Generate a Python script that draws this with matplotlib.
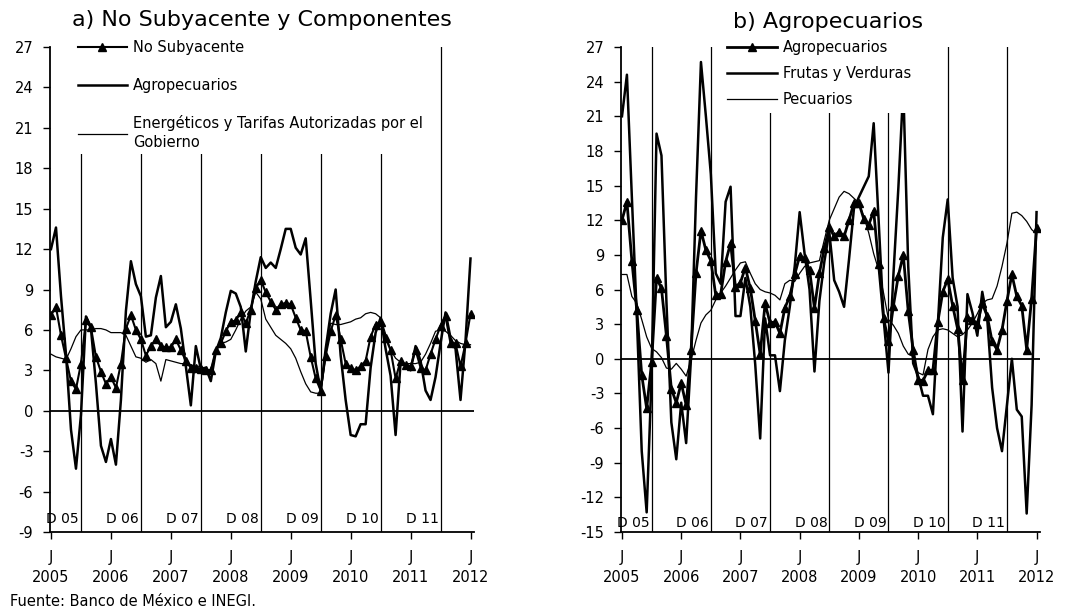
import matplotlib.pyplot as plt
import numpy as np

plt.rcParams['font.family'] = 'DejaVu Sans'
plt.rcParams['axes.unicode_minus'] = False

# monthly annual inflation, jun 2005 .. jun 2012
years = ['2005', '2006', '2007', '2008', '2009', '2010', '2011', '2012']
dic_labels = ['D 05', 'D 06', 'D 07', 'D 08', 'D 09', 'D 10', 'D 11']

no_subyacente = [7.1, 7.7, 5.6, 3.9, 2.2, 1.6, 3.5, 6.7, 6.2, 4.0,
                 2.9, 2.0, 2.5, 1.7, 3.5, 6.1, 7.1, 6.0, 5.3, 4.1,
                 4.8, 5.3, 4.8, 4.7, 4.7, 5.3, 4.5, 3.7, 3.2, 3.2,
                 3.1, 3.0, 3.0, 4.5, 5.0, 5.9, 6.6, 6.7, 7.3, 6.5,
                 7.5, 9.1, 9.7, 8.8, 8.1, 7.5, 7.9, 8.0, 7.9, 6.9,
                 6.0, 5.9, 4.0, 2.4, 1.5, 4.1, 5.9, 7.1, 5.3, 3.5,
                 3.2, 3.0, 3.3, 3.7, 5.5, 6.4, 6.6, 5.4, 4.5, 2.4,
                 3.7, 3.4, 3.3, 4.5, 3.2, 3.0, 4.2, 5.3, 6.3, 7.0,
                 5.0, 5.0, 3.3, 5.0, 7.2]
agropecuarios = [12.0, 13.6, 8.5, 4.2, -1.4, -4.3, -0.3, 7.0, 6.1, 2.0,
                 -2.6, -3.8, -2.1, -4.0, 0.8, 7.4, 11.1, 9.4, 8.5, 5.5,
                 5.6, 8.4, 10.0, 6.2, 6.6, 7.9, 6.1, 3.3, 0.4, 4.8,
                 3.1, 3.2, 2.2, 4.4, 5.4, 7.3, 8.9, 8.7, 7.7, 4.4,
                 7.4, 9.6, 11.4, 10.6, 11.0, 10.6, 12.0, 13.5, 13.5, 12.1,
                 11.6, 12.8, 8.2, 3.5, 1.5, 4.6, 7.2, 9.0, 4.1, 0.8,
                 -1.8, -1.9, -1.0, -1.0, 3.2, 5.8, 6.9, 4.6, 2.6, -1.8,
                 3.6, 3.4, 3.0, 4.8, 3.7, 1.5, 0.8, 2.5, 5.0, 7.3,
                 5.4, 4.6, 0.8, 5.2, 11.3]
energeticos = [4.2, 4.0, 3.9, 3.8, 4.6, 5.5, 6.0, 6.0, 6.0, 6.1,
               6.1, 6.0, 5.8, 5.8, 5.8, 5.6, 4.8, 4.0, 3.9, 3.6,
               3.8, 3.5, 2.2, 3.8, 3.7, 3.6, 3.5, 3.5, 3.4, 3.3,
               3.3, 3.1, 3.0, 4.5, 5.0, 5.1, 5.3, 6.0, 6.8, 7.4,
               7.7, 8.8, 8.3, 6.8, 6.2, 5.6, 5.3, 5.0, 4.6, 3.9,
               2.9, 2.0, 1.4, 1.3, 1.3, 4.0, 6.5, 6.4, 6.4, 6.5,
               6.6, 6.8, 6.9, 7.2, 7.3, 7.2, 6.9, 5.7, 4.5, 3.9,
               3.6, 3.5, 3.5, 3.5, 3.6, 4.2, 5.0, 5.9, 6.0, 5.9,
               5.6, 5.2, 5.0, 4.9, 4.9]
frutas_verduras = [21.0, 24.6, 14.0, 3.7, -8.0, -13.3, -1.5, 19.5, 17.6, 5.0,
                   -5.5, -8.7, -3.8, -7.3, 0.2, 14.0, 25.7, 21.0, 16.0, 7.4,
                   6.5, 13.6, 14.9, 3.7, 3.7, 7.0, 4.5, -0.5, -6.9, 3.5,
                   0.3, 0.3, -2.8, 1.6, 4.5, 8.0, 12.7, 9.1, 6.0, -1.1,
                   5.0, 8.4, 11.0, 6.8, 5.8, 4.5, 8.6, 13.0, 14.0, 14.9,
                   15.8, 20.4, 12.0, 3.5, -1.2, 7.3, 14.8, 23.5, 8.0, -0.4,
                   -1.5, -3.2, -3.2, -4.8, 3.0, 10.5, 13.8, 7.0, 4.5, -6.3,
                   5.6, 4.0, 2.0, 5.8, 3.5, -2.5, -6.0, -8.0, -4.0, 0.0,
                   -4.4, -5.0, -13.4, -4.0, 12.7]
pecuarios = [7.3, 7.3, 5.4, 4.8, 3.4, 1.9, 0.9, 0.6, 0.1, -0.8,
             -0.9, -0.4, -0.9, -1.5, -0.1, 1.6, 3.1, 3.8, 4.2, 5.1,
             5.7, 6.3, 7.0, 7.7, 8.3, 8.4, 7.4, 6.5, 6.0, 5.8,
             5.7, 5.5, 5.1, 6.5, 6.8, 6.7, 7.4, 8.0, 8.3, 8.4,
             8.5, 10.3, 12.0, 13.0, 14.0, 14.5, 14.3, 13.9, 13.5, 12.3,
             10.9, 9.1, 7.7, 5.7, 3.4, 2.9, 2.2, 1.1, 0.4, 0.2,
             -1.2, -1.4, 0.8, 1.9, 2.5, 2.6, 2.5, 2.2, 1.9, 2.1,
             2.5, 3.1, 3.9, 4.8, 5.1, 5.2, 6.3, 8.0, 10.0, 12.6,
             12.7, 12.4, 11.9, 11.2, 10.8]

meses = np.arange(len(agropecuarios))
jun_ticks = np.arange(0, len(meses), 12)
dic_pos = jun_ticks[:-1] + 6

fig = plt.figure(figsize=(10.79, 6.11), dpi=100)
W, H = 1079.0, 611.0

def panel(left, right, ymin, ymax, dy_label, fs=10.5):
    ax = fig.add_axes([left / W, (H - 532) / H, (right - left) / W, (532 - 47) / H])
    ax.set_xlim(-0.2, 84.7)
    ax.set_ylim(ymin, ymax)
    ax.set_yticks(np.arange(ymin, ymax + 1, 3))
    ax.set_xticks(jun_ticks)
    ax.set_xticklabels(['J\n' + y for y in years], linespacing=1.45)
    ax.tick_params(direction='out', length=5, width=1, labelsize=fs, pad=7)
    ax.tick_params(axis='x', pad=8)
    for s in ['top', 'right']:
        ax.spines[s].set_visible(False)
    for s in ['left', 'bottom']:
        ax.spines[s].set_linewidth(1.3)
    for x, lab in zip(dic_pos, dic_labels):
        ax.axvline(x, color='black', lw=0.9, zorder=1)
        ax.text(x - 0.4, dy_label, lab, ha='right', va='center', fontsize=10)
    ax.axhline(0, color='black', lw=1.3, zorder=2)
    return ax

# a) No subyacente y componentes
ax1 = panel(50, 474, -9, 27, -8.0)
ax1.plot(meses, no_subyacente, color='black', lw=1.5, marker='^', ms=6,
         label='No Subyacente', zorder=4)
ax1.plot(meses, agropecuarios, color='black', lw=1.8, label='Agropecuarios', zorder=3)
ax1.plot(meses, energeticos, color='black', lw=0.9,
         label='Energéticos y Tarifas Autorizadas por el\nGobierno', zorder=3)
leg1 = ax1.legend(loc='upper left', bbox_to_anchor=(0.055, 1.023), frameon=True,
                  facecolor='white', edgecolor='none', framealpha=1, fancybox=False,
                  fontsize=10.5, handlelength=3.4, handletextpad=0.4, labelspacing=1.55,
                  borderpad=0.3, borderaxespad=0)
for t in leg1.get_texts():
    t.set_linespacing(1.3)

# b) Agropecuarios
ax2 = panel(621, 1040, -15, 27, -14.2)
ax2.plot(meses, agropecuarios, color='black', lw=2.0, marker='^', ms=6,
         label='Agropecuarios', zorder=4)
ax2.plot(meses, frutas_verduras, color='black', lw=1.8, label='Frutas y Verduras', zorder=3)
ax2.plot(meses, pecuarios, color='black', lw=0.9, label='Pecuarios', zorder=3)
ax2.legend(loc='upper left', bbox_to_anchor=(0.24, 1.026), frameon=True,
           facecolor='white', edgecolor='none', framealpha=1, fancybox=False,
           fontsize=10.5, handlelength=3.4, handletextpad=0.4, labelspacing=0.75,
           borderpad=0.4, borderaxespad=0)

fig.text(262 / W, 1 - 20 / H, 'a) No Subyacente y Componentes', fontsize=16,
         ha='center', va='center')
fig.text(828 / W, 1 - 22 / H, 'b) Agropecuarios', fontsize=16, ha='center', va='center')
fig.text(10 / W, 1 - 602 / H, 'Fuente: Banco de México e INEGI.', fontsize=10.5,
         ha='left', va='center')

fig.savefig('out.png', dpi=100)
